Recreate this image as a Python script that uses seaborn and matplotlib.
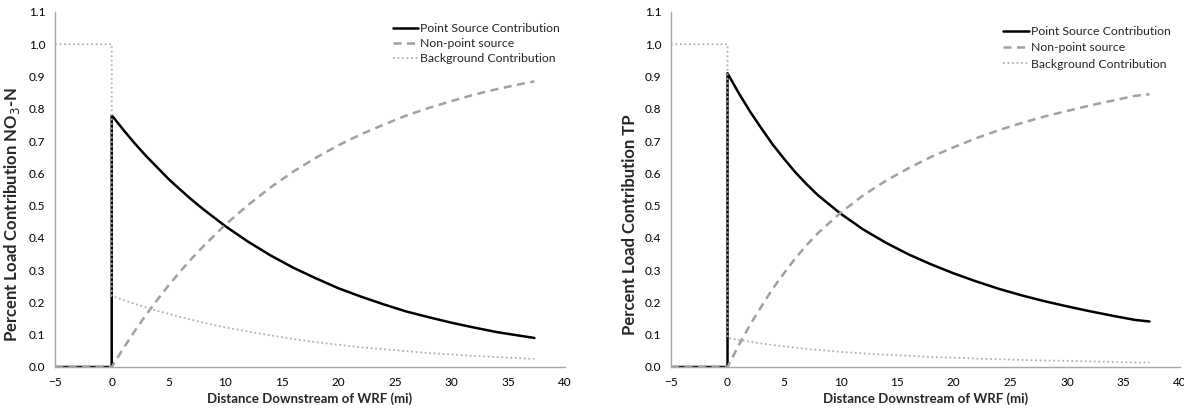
import matplotlib
matplotlib.use("Agg")
import matplotlib.pyplot as plt
import matplotlib.ticker as mticker
import pandas as pd
import seaborn as sns

# distance downstream (mi); the step at 0 is listed twice
distance = [-5, 0, 0, 1, 2, 3, 4, 5, 6, 7, 8, 10, 12, 14, 16, 18, 20, 22, 24, 26, 28, 30,
            32, 34, 36, 37.3]

# NO3-N panel
no3_point = [0, 0, 0.780, 0.736, 0.694, 0.655, 0.619, 0.583, 0.551, 0.520, 0.491, 0.437,
             0.389, 0.346, 0.308, 0.275, 0.244, 0.218, 0.194, 0.172, 0.154, 0.137, 0.122,
             0.108, 0.097, 0.090]
no3_nonpoint = [0, 0, 0, 0.056, 0.110, 0.160, 0.207, 0.252, 0.294, 0.334, 0.371, 0.440,
                0.501, 0.556, 0.605, 0.648, 0.687, 0.721, 0.751, 0.779, 0.803, 0.824, 0.844,
                0.861, 0.876, 0.885]
no3_background = [1.0, 1.0, 0.220, 0.208, 0.196, 0.185, 0.174, 0.165, 0.155, 0.147, 0.138,
                  0.123, 0.110, 0.098, 0.087, 0.077, 0.069, 0.061, 0.055, 0.049, 0.043, 0.039,
                  0.034, 0.031, 0.027, 0.025]

# TP panel
tp_point = [0, 0, 0.910, 0.848, 0.791, 0.739, 0.689, 0.645, 0.603, 0.566, 0.532, 0.475,
            0.426, 0.385, 0.349, 0.318, 0.290, 0.265, 0.242, 0.222, 0.204, 0.188, 0.173,
            0.159, 0.146, 0.141]
tp_nonpoint = [0, 0, 0, 0.068, 0.131, 0.188, 0.243, 0.291, 0.337, 0.378, 0.415, 0.478,
               0.532, 0.577, 0.616, 0.651, 0.681, 0.709, 0.734, 0.756, 0.776, 0.793, 0.810,
               0.825, 0.840, 0.845]
tp_background = [1.0, 1.0, 0.090, 0.084, 0.078, 0.073, 0.068, 0.064, 0.060, 0.056, 0.053,
                 0.047, 0.042, 0.038, 0.035, 0.031, 0.029, 0.026, 0.024, 0.022, 0.020, 0.019,
                 0.017, 0.016, 0.014, 0.014]

series_names = ["Point Source Contribution", "Non-point source", "Background Contribution"]
panel_ylabels = ["Percent Load Contribution NO$_3$-N", "Percent Load Contribution TP"]
x_ticks = [-5, 0, 5, 10, 15, 20, 25, 30, 35, 40]
y_ticks = [0.0, 0.1, 0.2, 0.3, 0.4, 0.5, 0.6, 0.7, 0.8, 0.9, 1.0, 1.1]

sns.set_style("white")
plt.rcParams["font.family"] = ["Lato", "DejaVu Sans"]

styles = {
    "Point Source Contribution": dict(color="black", linestyle="-", linewidth=1.8),
    "Non-point source": dict(color="#A0A0A0", linestyle=(0, (3.2, 2.2)), linewidth=1.8),
    "Background Contribution": dict(color="#B0B0B0", linestyle=(0, (1, 1.5)), linewidth=1.3),
}


def draw_panel(ax, point, nonpoint, background, ylabel, label_y, legend_anchor, spacing):
    df = pd.DataFrame({
        "distance": distance * 3,
        "value": point + nonpoint + background,
        "series": [series_names[0]] * len(distance) + [series_names[1]] * len(distance)
        + [series_names[2]] * len(distance),
    })
    for name in series_names:
        sub = df[df["series"] == name]
        sns.lineplot(data=sub, x="distance", y="value", ax=ax, estimator=None, sort=False,
                     label=name, **styles[name])
    ax.set_xlim(-5, 40)
    ax.set_ylim(0, 1.1)
    ax.set_xticks(x_ticks)
    ax.set_yticks(y_ticks)
    ax.yaxis.set_major_formatter(mticker.FormatStrFormatter("%.1f"))
    for s in ["top", "right"]:
        ax.spines[s].set_visible(False)
    for s in ["left", "bottom"]:
        ax.spines[s].set_color("#A6A6A6")
        ax.spines[s].set_linewidth(1.0)
    ax.tick_params(axis="both", direction="out", length=4, width=1.0, color="#A6A6A6",
                   labelsize=8.5, labelcolor="black", pad=3)
    ax.set_xlabel("Distance Downstream of WRF (mi)", fontsize=9.5, fontweight="bold",
                  labelpad=3)
    ax.set_ylabel(ylabel, fontsize=12, fontweight="bold")
    ax.yaxis.set_label_coords(-0.065, label_y)
    ax.legend(loc="upper left", bbox_to_anchor=legend_anchor, frameon=False, fontsize=8.8,
              handlelength=2.1, handletextpad=0.15, labelspacing=spacing, borderaxespad=0,
              borderpad=0)


fig = plt.figure(figsize=(11.84, 4.13), dpi=100)
ax1 = fig.add_axes([0.0465, 0.1114, 0.4307, 0.8596])
ax2 = fig.add_axes([0.5667, 0.1114, 0.4299, 0.8596])

draw_panel(ax1, no3_point, no3_nonpoint, no3_background, panel_ylabels[0], 0.43,
           (0.662, 0.968), 0.31)
draw_panel(ax2, tp_point, tp_nonpoint, tp_background, panel_ylabels[1], 0.40,
           (0.653, 0.96), 0.43)

fig.savefig("out.png", dpi=100)
